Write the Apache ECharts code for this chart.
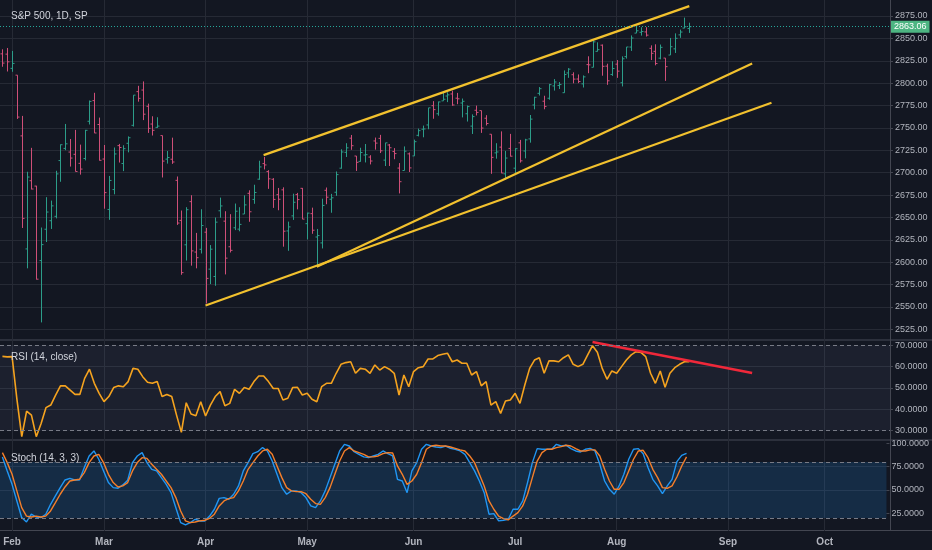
<!DOCTYPE html>
<html>
<head>
<meta charset="utf-8">
<title>S&amp;P 500, 1D</title>
<script src="https://cdn.jsdelivr.net/npm/echarts@6.0.0/dist/echarts.min.js"></script>
<style>
    html, body { margin: 0; padding: 0; background: #131722; }
    #chart { width: 932px; height: 550px; }
</style>
</head>
<body>
<div id="chart"></div>
<script>
// 交易日（含右侧留白的未来日期）
var MONTHS = ['Jan', 'Feb', 'Mar', 'Apr', 'May', 'Jun', 'Jul', 'Aug', 'Sep', 'Oct'];
var monthDays = [
    [30, 31],
    [1, 2, 5, 6, 7, 8, 9, 12, 13, 14, 15, 16, 20, 21, 22, 23, 26, 27, 28],
    [1, 2, 5, 6, 7, 8, 9, 12, 13, 14, 15, 16, 19, 20, 21, 22, 23, 26, 27, 28, 29],
    [2, 3, 4, 5, 6, 9, 10, 11, 12, 13, 16, 17, 18, 19, 20, 23, 24, 25, 26, 27, 30],
    [1, 2, 3, 4, 7, 8, 9, 10, 11, 14, 15, 16, 17, 18, 21, 22, 23, 24, 25, 29, 30, 31],
    [1, 4, 5, 6, 7, 8, 11, 12, 13, 14, 15, 18, 19, 20, 21, 22, 25, 26, 27, 28, 29],
    [2, 3, 5, 6, 9, 10, 11, 12, 13, 16, 17, 18, 19, 20, 23, 24, 25, 26, 27, 30, 31],
    [1, 2, 3, 6, 7, 8, 9, 10, 13, 14, 15, 16, 17, 20, 21, 22, 23, 24, 27, 28, 29, 30, 31],
    [3, 4, 5, 6, 7, 10, 11, 12, 13, 14, 17, 18, 19, 20, 21, 24, 25, 26, 27, 28],
    [1, 2, 3, 4, 5, 8, 9, 10, 11, 12, 15, 16, 17, 18]
];

// OHLC, Jan 30 - Aug 22
var opens = [
    2832.7, 2832.4,
    2816.5, 2808.9, 2741.1, 2614.8, 2691.0, 2685.0, 2601.8, 2636.8, 2646.3, 2651.2, 2713.5, 2727.1, 2723.0, 2720.5, 2710.4, 2715.8, 2757.4, 2780.5, 2753.8,
    2715.2, 2658.9, 2681.1, 2730.2, 2710.2, 2732.8, 2752.9, 2790.5, 2792.3, 2774.1, 2754.3, 2750.6, 2741.4, 2715.1, 2715.0, 2691.4, 2646.7, 2619.4, 2667.6, 2611.3, 2614.4,
    2633.5, 2592.2, 2584.0, 2657.4, 2645.8, 2617.2, 2638.4, 2636.9, 2653.8, 2676.9, 2670.1, 2692.7, 2710.1, 2701.2, 2692.6, 2675.4, 2680.8, 2634.9, 2651.7, 2675.5, 2682.5,
    2643.0, 2654.2, 2628.1, 2621.5, 2680.3, 2670.3, 2678.1, 2705.0, 2722.7, 2738.5, 2718.6, 2712.6, 2719.7, 2717.4, 2735.4, 2738.3, 2714.0, 2730.9, 2723.6, 2705.1, 2702.4, 2721.0,
    2718.7, 2741.7, 2748.5, 2753.3, 2774.8, 2765.8, 2780.2, 2785.6, 2787.9, 2783.2, 2777.8, 2765.8, 2752.0, 2769.7, 2769.3, 2760.8, 2742.9, 2722.1, 2728.5, 2698.7, 2727.1,
    2705.0, 2733.3, 2724.2, 2737.7, 2775.6, 2788.6, 2779.8, 2783.1, 2796.9, 2797.4, 2789.3, 2811.4, 2809.4, 2804.6, 2799.2, 2820.7, 2817.7, 2835.5, 2842.4, 2819.0, 2809.7,
    2821.2, 2800.5, 2829.6, 2840.3, 2855.9, 2856.8, 2857.2, 2838.9, 2835.5, 2827.9, 2828.0, 2831.4, 2838.3, 2853.9, 2861.5, 2861.0
];
var highs = [
    2837.8, 2839.3,
    2836.0, 2808.9, 2763.4, 2701.0, 2727.7, 2685.3, 2638.7, 2672.6, 2668.8, 2702.1, 2731.5, 2754.4, 2737.6, 2747.8, 2731.3, 2747.8, 2780.6, 2789.2, 2761.5,
    2730.9, 2696.3, 2728.1, 2732.1, 2730.6, 2740.5, 2786.6, 2797.0, 2801.9, 2777.1, 2763.0, 2761.9, 2741.4, 2724.2, 2739.1, 2695.7, 2657.7, 2661.4, 2674.8, 2632.7, 2659.1,
    2638.3, 2619.1, 2649.9, 2672.1, 2656.9, 2653.6, 2665.5, 2661.4, 2674.7, 2680.3, 2686.5, 2713.3, 2717.5, 2702.8, 2693.9, 2682.9, 2683.6, 2645.3, 2676.5, 2677.4, 2682.9,
    2655.3, 2660.9, 2637.1, 2670.9, 2683.4, 2676.3, 2701.3, 2726.1, 2732.9, 2742.1, 2718.6, 2727.8, 2732.0, 2719.5, 2739.2, 2742.2, 2733.3, 2732.0, 2727.4, 2710.7, 2729.3, 2722.5,
    2736.9, 2749.2, 2752.6, 2772.4, 2779.9, 2779.4, 2790.2, 2789.8, 2791.5, 2789.1, 2782.8, 2775.0, 2765.1, 2774.9, 2769.3, 2764.2, 2742.9, 2732.9, 2746.1, 2724.3, 2743.3,
    2727.3, 2736.6, 2737.8, 2764.4, 2784.7, 2795.6, 2785.9, 2799.2, 2804.5, 2801.2, 2814.2, 2816.8, 2812.1, 2809.7, 2808.6, 2830.0, 2848.0, 2845.6, 2843.2, 2821.7, 2824.5,
    2825.8, 2829.9, 2840.4, 2853.3, 2863.4, 2862.4, 2862.5, 2842.2, 2843.4, 2843.1, 2828.0, 2850.5, 2855.6, 2859.8, 2873.2, 2867.5
];
var lows = [
    2818.3, 2813.0,
    2812.7, 2760.0, 2638.2, 2593.1, 2681.3, 2580.6, 2532.7, 2622.5, 2637.1, 2648.9, 2689.8, 2725.1, 2706.8, 2701.3, 2697.8, 2713.7, 2753.8, 2744.2, 2713.5,
    2659.7, 2647.3, 2675.8, 2711.3, 2701.7, 2722.7, 2751.5, 2779.3, 2758.7, 2744.4, 2741.5, 2750.0, 2694.6, 2710.1, 2709.8, 2641.6, 2585.9, 2601.8, 2596.1, 2593.1, 2609.7,
    2553.8, 2575.5, 2573.6, 2649.6, 2586.3, 2610.8, 2635.8, 2634.5, 2653.8, 2645.1, 2665.2, 2692.1, 2703.6, 2681.9, 2660.6, 2658.0, 2617.3, 2612.7, 2647.2, 2659.0, 2648.0,
    2625.4, 2631.7, 2594.6, 2615.3, 2664.7, 2655.2, 2674.1, 2704.5, 2717.5, 2725.5, 2701.9, 2712.2, 2711.4, 2709.2, 2725.7, 2721.9, 2707.4, 2707.4, 2715.0, 2676.8, 2702.4, 2700.7,
    2718.7, 2740.5, 2739.5, 2748.5, 2760.2, 2763.6, 2780.2, 2778.8, 2774.7, 2776.5, 2761.7, 2757.1, 2743.2, 2763.9, 2744.4, 2752.7, 2698.7, 2715.6, 2699.4, 2692.0, 2718.0,
    2699.0, 2711.2, 2716.0, 2733.5, 2770.7, 2786.2, 2770.8, 2781.5, 2791.7, 2793.4, 2789.2, 2805.9, 2799.8, 2800.0, 2795.1, 2811.1, 2817.7, 2835.3, 2808.3, 2798.1, 2808.1,
    2805.9, 2796.3, 2827.4, 2836.0, 2855.9, 2853.1, 2852.0, 2825.8, 2819.9, 2826.6, 2802.5, 2831.4, 2833.7, 2850.6, 2861.3, 2856.1
];
var closes = [
    2822.4, 2823.8,
    2822.0, 2762.1, 2648.9, 2695.1, 2681.7, 2581.0, 2619.6, 2656.0, 2662.9, 2698.6, 2731.2, 2732.2, 2716.3, 2701.3, 2704.0, 2747.3, 2779.6, 2744.3, 2713.8,
    2677.7, 2691.3, 2720.9, 2728.1, 2726.8, 2739.0, 2786.6, 2783.0, 2765.3, 2749.5, 2747.3, 2752.0, 2712.9, 2716.9, 2711.9, 2643.7, 2588.3, 2658.6, 2612.6, 2605.0, 2640.9,
    2581.9, 2614.5, 2644.7, 2662.8, 2604.5, 2613.2, 2656.9, 2642.2, 2664.0, 2656.3, 2677.8, 2706.4, 2708.6, 2693.1, 2670.1, 2670.3, 2634.6, 2639.4, 2666.9, 2669.9, 2648.1,
    2654.8, 2635.7, 2629.7, 2663.4, 2672.6, 2671.9, 2697.8, 2723.1, 2727.7, 2730.1, 2711.5, 2722.5, 2720.1, 2713.0, 2733.0, 2724.4, 2733.3, 2727.8, 2721.3, 2689.9, 2724.0, 2705.3,
    2734.6, 2746.9, 2748.8, 2772.4, 2770.4, 2779.0, 2782.0, 2786.9, 2775.6, 2782.5, 2779.7, 2773.8, 2762.6, 2767.3, 2749.8, 2754.9, 2717.1, 2723.1, 2699.6, 2716.3, 2718.4,
    2726.7, 2713.2, 2736.6, 2759.8, 2784.2, 2793.8, 2774.0, 2798.3, 2801.3, 2798.4, 2809.6, 2815.6, 2804.5, 2801.8, 2807.0, 2820.4, 2846.1, 2837.4, 2818.8, 2802.6, 2816.3,
    2813.4, 2827.2, 2840.4, 2850.4, 2858.5, 2857.7, 2853.6, 2833.3, 2821.9, 2840.0, 2818.4, 2840.7, 2850.1, 2857.1, 2863.0, 2863.06
];

// RSI (14, close)
var rsiValues = [
    64.8, 64.6,
    64.7, 44.7, 27.2, 39.2, 37.3, 27.2, 33.4, 40.8, 42, 46.7, 51, 51, 49, 47, 47, 54.5, 58.8, 52.2, 47.5,
    43.6, 46, 50.2, 51, 50.6, 53, 59.2, 58.8, 55.3, 52.7, 52.2, 53, 46, 47, 46, 37.3, 29.2, 43.1, 37.8, 37, 43.6,
    36.9, 42, 46, 48.3, 41.7, 42.8, 49.4, 47.5, 50.2, 49.4, 53, 55.6, 55.6, 53, 49.8, 49.8, 44.4, 45.2, 50.2, 50.3, 46.7,
    47.5, 44.7, 43.6, 50.6, 52.2, 52.2, 56.9, 61.1, 61.9, 62.3, 56.9, 59.2, 58.8, 56.9, 60.8, 58.4, 60, 58.8, 56.9, 46.7, 56.1, 50.6,
    57.7, 59.5, 60, 63.6, 63.6, 65.2, 65.8, 66.3, 62.3, 63.1, 61.6, 61.6, 56.1, 57.7, 51, 53, 42, 43.6, 38.1, 43.9, 44.4,
    47.5, 42.8, 51.4, 59.2, 63.1, 64.2, 56.9, 62.7, 62.7, 62.3, 64.2, 65.5, 61.1, 60, 61.1, 65.5, 69.8, 66.7, 59.2, 54.1, 58,
    56.9, 60, 63.1, 65.5, 67, 66.7, 64.7, 56.9, 52.2, 58, 50.3, 56.9, 59.5, 61.1, 62.3, 62.3
];

// Stoch (14, 3, 3): %K 与 %D
var stochK = [
    85.4, 70.4,
    56, 38.2, 20.4, 15.7, 24, 21, 20.4, 24, 34.6, 43.6, 52.5, 60.7, 62.5, 60.7, 60.7, 74, 86.4, 91.8, 82.9,
    70.4, 57.9, 52.5, 51.8, 55.4, 60.4, 79.3, 86.4, 90, 79.3, 72.1, 70.4, 63.2, 56, 47.1, 31, 15, 12.5, 15, 18.6, 16.8,
    16.8, 22, 29.3, 41, 41.8, 40, 45.4, 54.3, 70.4, 79.3, 88.9, 91, 95.4, 91.8, 81, 66.8, 52.5, 45.4, 49, 49, 47.1,
    41.8, 32.9, 31, 38.2, 49, 63.2, 77.5, 91.8, 98.9, 97.1, 91, 88.2, 85.4, 84.6, 86.4, 88.2, 91.8, 88.9, 86.4, 61.4, 59.6, 47.1,
    70.4, 79.3, 93.6, 98.9, 97.1, 96, 95.4, 97.1, 94.6, 93.6, 91.8, 88.2, 79.3, 70.4, 59.6, 47.1, 24, 24.6, 16.8, 17.5, 18.6,
    29.3, 29.3, 38.2, 57.9, 79.3, 94.3, 93.6, 93.6, 93.6, 98.9, 97.1, 97.9, 94.3, 91.8, 90.7, 93.6, 94.6, 91.8, 77.5, 59.6, 50.7,
    45.4, 54.3, 66.8, 82.9, 93.6, 94.3, 88.9, 74, 61.4, 54.3, 46, 54.3, 61.4, 80.4, 87.1, 89.3
];
var stochD = [
    90, 79.3,
    66.8, 49, 31, 22, 21, 22, 21, 22, 27.5, 36.4, 45.4, 53.2, 59.6, 60.7, 61.4, 68.6, 79.3, 86.4, 88.2,
    79.3, 66.8, 57.9, 53.2, 54.3, 57.9, 70.4, 79.3, 84.6, 83.9, 77.5, 72.1, 66.8, 59.6, 52.5, 41.8, 27.5, 16.8, 15, 15.7, 16.8,
    17.5, 19.6, 24, 32.9, 38.2, 40.7, 41.8, 49, 59.6, 72.1, 79.3, 86.4, 91.8, 93.6, 88.2, 75.7, 63.2, 52.5, 49, 48.2, 48.2,
    46, 40, 35.4, 34.6, 41.8, 52.5, 66.8, 81, 91.8, 95.4, 91.8, 90, 88.2, 85.4, 85.4, 86.4, 88.9, 90, 89.6, 75.7, 66.8, 56,
    59.6, 66.8, 79.3, 93.6, 97.1, 97.9, 97.1, 97.1, 96, 94.6, 92.9, 91.8, 86.4, 79.3, 66.8, 54.3, 38.2, 29.3, 22, 19.3, 17.9,
    22, 25.7, 32.9, 45.4, 63.2, 81, 90, 93.6, 93.6, 95.4, 96.4, 97.9, 97.1, 94.3, 91.8, 91.8, 92.9, 92.9, 86.4, 72.1, 59.6,
    50.7, 50.7, 57.9, 70.4, 82.9, 91.8, 92.5, 84.6, 72.1, 63.2, 52.5, 51.8, 54.3, 63.9, 75.7, 85.4
];

// 手绘趋势线（日期, 数值）
var upperChannel = [['Apr 18', 2719.6], ['Aug 22', 2886]];
var middleLine = [['May 3', 2595], ['Sep 10', 2822]];
var lowerLine = [['Apr 2', 2551.5], ['Sep 14', 2778]];
var rsiTrend = [['Jul 25', 71.5], ['Sep 10', 57]];

var PRICE_TICKS = {min: 2525, max: 2875, step: 25};
var RSI_TICKS = {min: 30, max: 70, step: 10};
var STOCH_TICKS = {min: 0, max: 100, step: 25};
var STOCH_LABELS = [25, 50, 75, 100];

var UP = '#2c9d89';
var DOWN = '#cf4f78';
var GRID_LINE = '#262a35';
var TEXT = '#b2b5be';
var FONT = 'Liberation Sans';

var dates = [];
monthDays.forEach(function (days, m) {
    days.forEach(function (d) {
        dates.push(MONTHS[m] + ' ' + d);
    });
});

var ohlc = opens.map(function (o, i) {
    return [i, o, highs[i], lows[i], closes[i]];
});
var lastPrice = closes[closes.length - 1];

function monthOf(name) {
    return name.split(' ')[0];
}

function isMonthStart(index, value) {
    return index > 0 && monthOf(value) !== monthOf(dates[index - 1]);
}

// OHLC 美国线
function renderBar(params, api) {
    var idx = api.value(0);
    var o = api.coord([idx, api.value(1)]);
    var h = api.coord([idx, api.value(2)]);
    var l = api.coord([idx, api.value(3)]);
    var c = api.coord([idx, api.value(4)]);
    var color = api.value(4) >= api.value(1) ? UP : DOWN;
    var style = {stroke: color, lineWidth: 1};
    var x = Math.round(h[0]) + 0.5;
    return {
        type: 'group',
        children: [
            {type: 'line', shape: {x1: x, y1: h[1], x2: x, y2: l[1]}, style: style},
            {type: 'line', shape: {x1: x - 2, y1: o[1], x2: x, y2: o[1]}, style: style},
            {type: 'line', shape: {x1: x, y1: c[1], x2: x + 2, y2: c[1]}, style: style}
        ]
    };
}

function valueAxis(gridIndex, ticks, digits, splitColors, labelValues) {
    var axis = {
        type: 'value',
        gridIndex: gridIndex,
        position: 'right',
        min: ticks.min,
        max: ticks.max,
        interval: ticks.step,
        axisLine: {show: false},
        axisTick: {show: true, length: 3, lineStyle: {color: '#434651'}},
        axisLabel: {
            color: TEXT,
            fontSize: 9,
            fontFamily: FONT,
            margin: 5,
            formatter: function (v) {
                if (labelValues && labelValues.indexOf(v) < 0) {
                    return '';
                }
                return v.toFixed(digits);
            }
        },
        splitLine: {show: true, lineStyle: {color: splitColors}}
    };
    if (labelValues) {
        axis.axisTick.customValues = labelValues;
        axis.axisLabel.customValues = labelValues;
    }
    return axis;
}

function hiddenX(gridIndex) {
    return {
        type: 'category',
        gridIndex: gridIndex,
        data: dates,
        show: false
    };
}

function dashedLevels(levels) {
    return {
        silent: true,
        symbol: 'none',
        label: {show: false},
        lineStyle: {color: '#787b86', type: [4, 3], width: 1},
        data: levels.map(function (v) {
            return {yAxis: v};
        })
    };
}

var chart = echarts.init(document.getElementById('chart'), null, {renderer: 'canvas'});
var bandW = 890 / dates.length;

var option = {
    backgroundColor: '#131722',
    animation: false,
    title: [
        {text: 'S&P 500, 1D, SP', left: 6, top: 6},
        {text: 'RSI (14, close)', left: 6, top: 347},
        {text: 'Stoch (14, 3, 3)', left: 6, top: 448}
    ].map(function (t) {
        t.textStyle = {color: '#d1d4dc', fontSize: 10, fontWeight: 'normal', fontFamily: FONT};
        return t;
    }),
    grid: [
        // 月份竖线与底部日期
        {left: bandW / 2, width: 890 - bandW, top: 0, height: 531},
        // 主图
        {left: 0, width: 890, top: 16, height: 313.3},
        // RSI
        {left: 0, width: 890, top: 345.3, height: 85.4},
        // Stoch: 100 -> 443.3, 25 -> 513.3
        {left: 0, width: 890, top: 443.3, height: 93.3}
    ],
    xAxis: [
        {
            type: 'category',
            gridIndex: 0,
            data: dates,
            boundaryGap: false,
            axisLine: {show: false},
            axisTick: {show: false},
            axisLabel: {
                interval: isMonthStart,
                formatter: monthOf,
                color: TEXT,
                fontSize: 10,
                fontWeight: 'bold',
                fontFamily: FONT,
                margin: 6
            },
            splitLine: {show: true, interval: isMonthStart, lineStyle: {color: GRID_LINE}}
        },
        hiddenX(1),
        hiddenX(2),
        hiddenX(3)
    ],
    yAxis: [
        {type: 'value', gridIndex: 0, show: false, min: 0, max: 1},
        valueAxis(1, PRICE_TICKS, 2, [GRID_LINE]),
        valueAxis(2, RSI_TICKS, 4, ['transparent', GRID_LINE, GRID_LINE, GRID_LINE, 'transparent']),
        valueAxis(3, STOCH_TICKS, 4, ['transparent', GRID_LINE, GRID_LINE, 'transparent', 'transparent'], STOCH_LABELS)
    ],
    graphic: [
        {type: 'rect', shape: {x: 0, y: 339, width: 932, height: 2}, style: {fill: '#2c303c'}, silent: true},
        {type: 'rect', shape: {x: 0, y: 439, width: 932, height: 2}, style: {fill: '#2c303c'}, silent: true},
        {type: 'line', shape: {x1: 0, y1: 530.5, x2: 932, y2: 530.5}, style: {stroke: '#434651', lineWidth: 1}, silent: true},
        {type: 'line', shape: {x1: 890.5, y1: 0, x2: 890.5, y2: 531}, style: {stroke: '#434651', lineWidth: 1}, silent: true}
    ],
    series: [
        {
            name: 'S&P 500',
            type: 'custom',
            xAxisIndex: 1,
            yAxisIndex: 1,
            renderItem: renderBar,
            encode: {x: 0, y: [1, 2, 3, 4]},
            clip: false,
            silent: true,
            data: ohlc
        },
        {
            name: 'upper',
            type: 'line',
            xAxisIndex: 1,
            yAxisIndex: 1,
            data: upperChannel,
            symbol: 'none',
            clip: false,
            silent: true,
            lineStyle: {color: '#f2c12e', width: 2.2},
            // 最新价虚线和价格标签
            markLine: {
                silent: true,
                symbol: 'none',
                lineStyle: {color: '#26a69a', type: [1, 2], width: 1},
                label: {
                    position: 'end',
                    distance: 1,
                    formatter: lastPrice.toFixed(2),
                    color: '#ffffff',
                    backgroundColor: '#4db582',
                    padding: [2, 3, 1, 3],
                    fontSize: 9,
                    fontFamily: FONT
                },
                data: [{yAxis: lastPrice}]
            }
        },
        {
            name: 'middle',
            type: 'line',
            xAxisIndex: 1,
            yAxisIndex: 1,
            data: middleLine,
            symbol: 'none',
            clip: false,
            silent: true,
            lineStyle: {color: '#f2c12e', width: 2.2}
        },
        {
            name: 'lower',
            type: 'line',
            xAxisIndex: 1,
            yAxisIndex: 1,
            data: lowerLine,
            symbol: 'none',
            clip: false,
            silent: true,
            lineStyle: {color: '#f2c12e', width: 2.2}
        },
        {
            name: 'RSI',
            type: 'line',
            xAxisIndex: 2,
            yAxisIndex: 2,
            data: rsiValues,
            symbol: 'none',
            clip: false,
            silent: true,
            lineStyle: {color: '#f5a31f', width: 1.6},
            markLine: dashedLevels([70, 30]),
            markArea: {
                silent: true,
                itemStyle: {color: 'rgba(126, 136, 180, 0.09)'},
                data: [[{yAxis: 30}, {yAxis: 70}]]
            }
        },
        {
            name: 'RSI trend',
            type: 'line',
            xAxisIndex: 2,
            yAxisIndex: 2,
            data: rsiTrend,
            symbol: 'none',
            clip: false,
            silent: true,
            lineStyle: {color: '#f0283a', width: 2.6}
        },
        {
            name: '%K',
            type: 'line',
            xAxisIndex: 3,
            yAxisIndex: 3,
            data: stochK,
            symbol: 'none',
            clip: false,
            silent: true,
            lineStyle: {color: '#2196f3', width: 1.4},
            markLine: dashedLevels([80, 20]),
            markArea: {
                silent: true,
                itemStyle: {color: 'rgba(33, 150, 243, 0.17)'},
                data: [[{yAxis: 20}, {yAxis: 80}]]
            }
        },
        {
            name: '%D',
            type: 'line',
            xAxisIndex: 3,
            yAxisIndex: 3,
            data: stochD,
            symbol: 'none',
            clip: false,
            silent: true,
            lineStyle: {color: '#f57f2a', width: 1.4}
        }
    ]
};

chart.setOption(option);
</script>
</body>
</html>
